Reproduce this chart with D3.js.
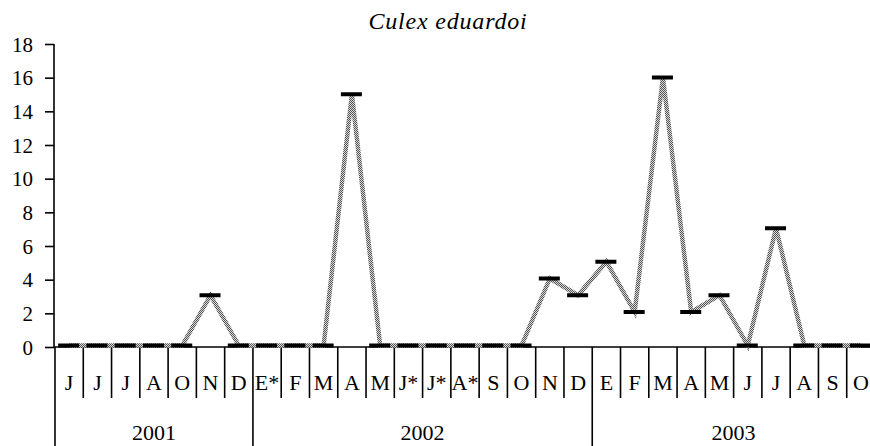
<!DOCTYPE html>
<html>
<head>
<meta charset="utf-8">
<script src="https://cdn.jsdelivr.net/npm/d3@7"></script>
<style>
	body { margin: 0; background: #fff; }
</style>
</head>
<body>
<svg class="chart"></svg>
<script>
var months = ['J','J','J','A','O','N','D',
	'E*','F','M','A','M','J*','J*','A*','S','O','N','D',
	'E','F','M','A','M','J','J','A','S','O'];
var years = ['2001','2002','2003'];
var yearStart = [0, 7, 19];
var yearEnd = [7, 19, 29];
var counts = [0,0,0,0,0,3,0,
	0,0,0,15,0,0,0,0,0,0,4,3,
	5,2,16,2,3,0,7,0,0,0];
var yTicks = [0,2,4,6,8,10,12,14,16,18];
var title = 'Culex eduardoi';

var FONT = "'Liberation Serif'";

var chart = {
	initialize: function(){
		var self = this;
		self._render_view();
		return self;
	},
	_render_view: function(){
		var width = 870, height = 446;
		var left = 55, right = 875, top = 44, bottom = 347;

		var svg = d3.select('svg.chart')
			.attr('width', width)
			.attr('height', height);

		// checkered grey like the old excel line
		var pat = svg.append('defs').append('pattern')
			.attr('id', 'grey-dots')
			.attr('width', 2).attr('height', 2)
			.attr('patternUnits', 'userSpaceOnUse');
		pat.append('rect').attr('width', 2).attr('height', 2).attr('fill', '#d8d8d8');
		pat.append('rect').attr('width', 1).attr('height', 1).attr('fill', '#555');
		pat.append('rect').attr('x', 1).attr('y', 1).attr('width', 1).attr('height', 1).attr('fill', '#555');

		var x = d3.scaleBand()
			.domain(d3.range(months.length))
			.range([left, right])
			.paddingInner(0).paddingOuter(0);
		var y = d3.scaleLinear()
			.domain([0, 18])
			.range([bottom - 1.5, top]);
		var yAxisScale = d3.scaleLinear().domain([0, 18]).range([bottom, top]);

		svg.append('text')
			.attr('x', 448).attr('y', 29)
			.attr('text-anchor', 'middle')
			.style('font-family', FONT)
			.attr('font-style', 'italic')
			.attr('font-size', 24)
			.attr('letter-spacing', 0.8)
			.text(title);

		var yAxis = svg.append('g')
			.attr('transform', 'translate(' + (left - 1) + ',0)')
			.call(d3.axisLeft(yAxisScale).tickValues(yTicks).tickSize(9).tickPadding(12));
		yAxis.selectAll('path, line').attr('stroke', '#000').attr('stroke-width', 1.6);
		yAxis.select('.domain').attr('d', 'M0,' + top + 'V' + bottom);
		yAxis.selectAll('text')
			.attr('font-size', 21)
			.style('font-family', FONT)
			.attr('fill', '#000')
			.attr('dy', '0.34em');

		// category axis
		svg.append('line')
			.attr('x1', left - 1).attr('x2', width)
			.attr('y1', bottom).attr('y2', bottom)
			.attr('stroke', '#000').attr('stroke-width', 1.6);

		var edges = d3.range(months.length + 1);
		svg.selectAll('.month-tick')
			.data(edges)
			.enter()
			.append('line')
			.attr('class', 'month-tick')
			.attr('x1', function(d){ return d < months.length ? x(d) : right; })
			.attr('x2', function(d){ return d < months.length ? x(d) : right; })
			.attr('y1', bottom)
			.attr('y2', function(d){ return yearStart.indexOf(d) >= 0 ? height : 398; })
			.attr('stroke', '#000').attr('stroke-width', 1.6);

		svg.selectAll('.month-label')
			.data(months)
			.enter()
			.append('text')
			.attr('class', 'month-label')
			.attr('x', function(d,i){ return x(i) + x.bandwidth() / 2; })
			.attr('y', 390)
			.attr('text-anchor', 'middle')
			.style('font-family', FONT)
			.attr('font-size', 22)
			.text(function(d){ return d; });

		svg.selectAll('.year-label')
			.data(years)
			.enter()
			.append('text')
			.attr('class', 'year-label')
			.attr('x', function(d,i){
				var a = x(yearStart[i]);
				var b = yearEnd[i] < months.length ? x(yearEnd[i]) : right;
				return (a + b) / 2;
			})
			.attr('y', 440)
			.attr('text-anchor', 'middle')
			.style('font-family', FONT)
			.attr('font-size', 22)
			.text(function(d){ return d; });

		var line = d3.line()
			.x(function(d,i){ return x(i) + x.bandwidth() / 2; })
			.y(function(d){ return y(d); });

		svg.append('path')
			.datum(counts)
			.attr('d', line)
			.attr('fill', 'none')
			.attr('stroke', 'url(#grey-dots)')
			.attr('stroke-width', 4.5)
			.attr('stroke-linejoin', 'miter');

		svg.selectAll('.marker')
			.data(counts)
			.enter()
			.append('rect')
			.attr('class', 'marker')
			.attr('x', function(d,i){ return x(i) + x.bandwidth() / 2 - 11; })
			.attr('y', function(d){ return y(d) - 2; })
			.attr('width', 21)
			.attr('height', 4)
			.attr('fill', '#000');
	}
};

chart.initialize();
</script>
</body>
</html>
